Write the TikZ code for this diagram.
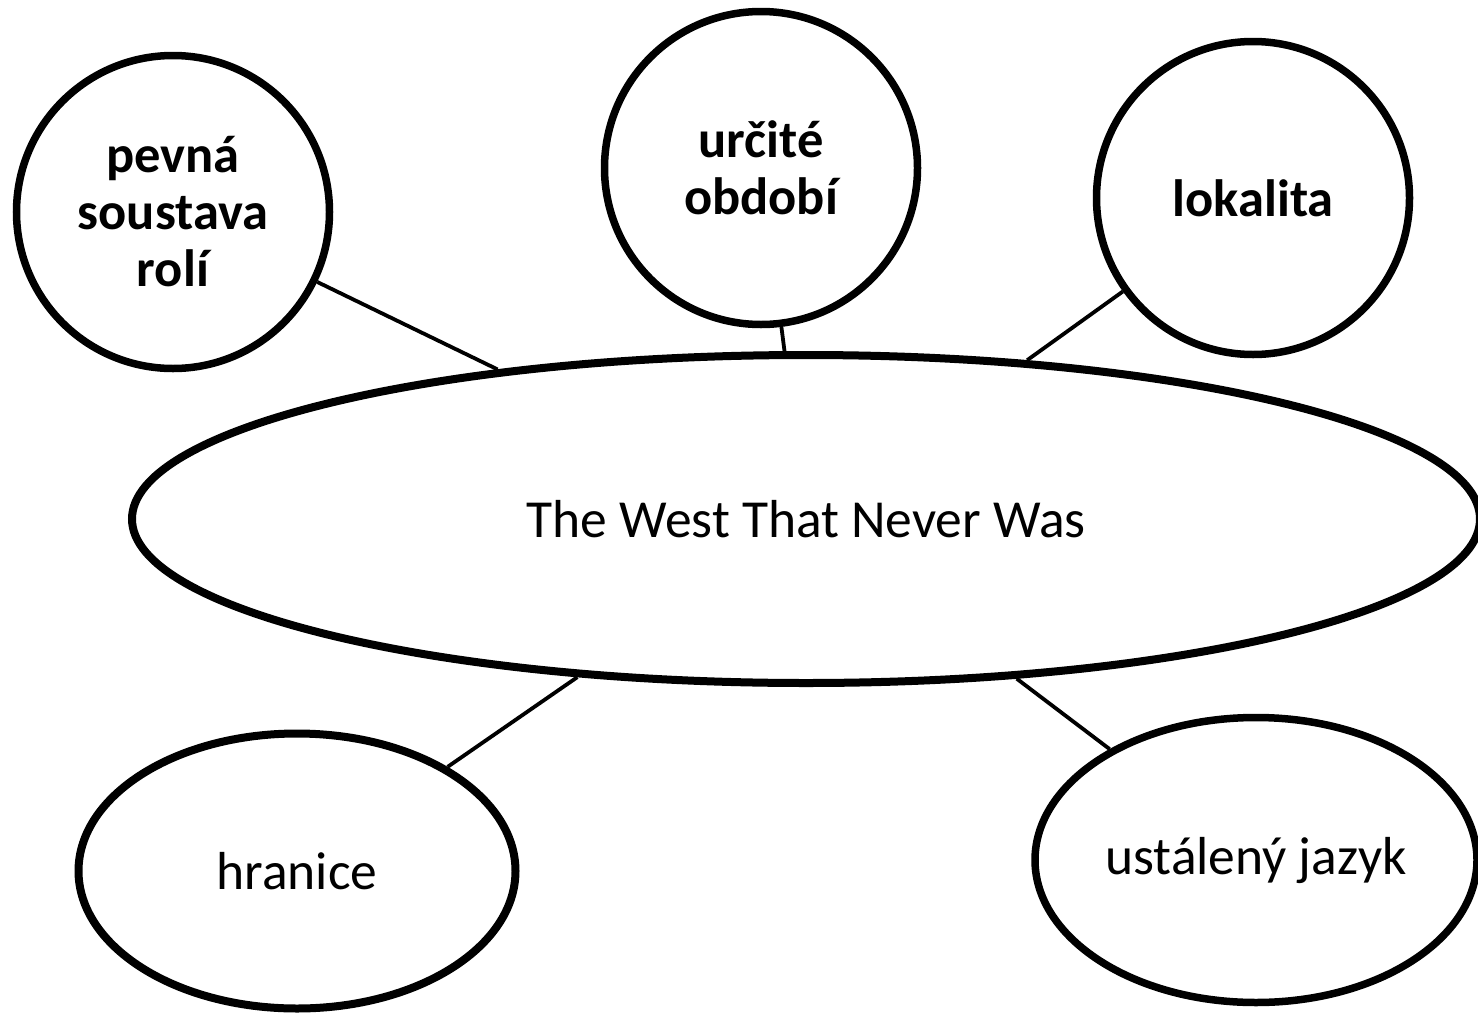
\documentclass[tikz,border=0pt]{standalone}
\usepackage{fontspec}
\setmainfont{Carlito}
\usetikzlibrary{shapes.geometric}
\tikzset{
  bubble/.style={draw=black, line width=7.5pt, ellipse, inner sep=0pt, align=center,
    font=\fontsize{53.5}{57}\selectfont},
  boldbubble/.style={bubble, font=\fontsize{52.5}{57}\selectfont\bfseries},
  link/.style={draw=black, line width=3.8pt}
}
\begin{document}
\begin{tikzpicture}[x=1pt,y=-1pt]
\useasboundingbox (0,0) rectangle (1478,1015);
\node[bubble, line width=8pt, minimum width=1348pt, minimum height=328pt] (main) at (806,519) {The West That Never Was};
\node[boldbubble, minimum width=313pt, minimum height=313pt] (roles) at (173,212) {pevná\\soustava\\rolí};
\node[boldbubble, minimum width=313pt, minimum height=313pt] (period) at (761,168) {určité\\období};
\node[boldbubble, minimum width=313pt, minimum height=313pt] (place) at (1253,198) {lokalita};
\node[bubble, line width=8pt, minimum width=437pt, minimum height=275pt] (border) at (297,871) {hranice};
\node[bubble, minimum width=442pt, minimum height=285pt] (lang) at (1256,860) {ustálený jazyk};
\draw[link] (roles) -- (main);
\draw[link] (period) -- (main);
\draw[link] (place) -- (main);
\draw[link] (border) -- (main);
\draw[link] (lang) -- (main);
\end{tikzpicture}
\end{document}
